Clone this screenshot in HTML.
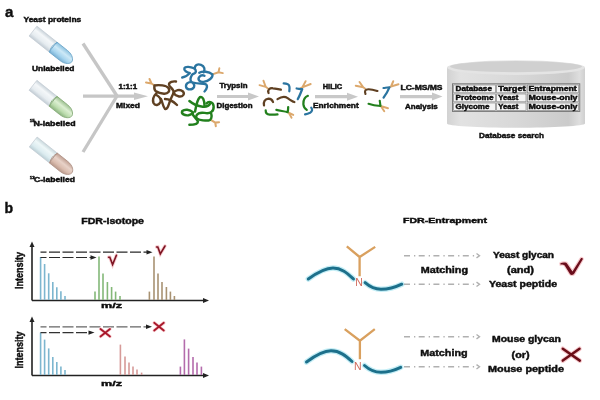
<!DOCTYPE html>
<html><head><meta charset="utf-8">
<style>
html,body{margin:0;padding:0;background:#fff;width:600px;height:400px;overflow:hidden}
svg{display:block}
text{font-family:"Liberation Sans",sans-serif;font-weight:bold;fill:#0c0c0c;stroke:#0c0c0c;stroke-width:0.42px}
</style></head><body>
<svg width="600" height="400" viewBox="0 0 600 400">
<defs>
<linearGradient id="tubeTop" x1="0" y1="0" x2="0" y2="1">
<stop offset="0" stop-color="#c9d3da"/><stop offset="0.3" stop-color="#f4f7f9"/><stop offset="0.7" stop-color="#e6ecf0"/><stop offset="1" stop-color="#c2ccd4"/>
</linearGradient>
<linearGradient id="tubeTop3" x1="0" y1="0" x2="0" y2="1">
<stop offset="0" stop-color="#c8d8dc"/><stop offset="0.3" stop-color="#eef7f8"/><stop offset="0.7" stop-color="#dcecf0"/><stop offset="1" stop-color="#bcd0d6"/>
</linearGradient>
<linearGradient id="liqBlue" x1="0" y1="0" x2="0" y2="1">
<stop offset="0" stop-color="#8cc2e0"/><stop offset="0.35" stop-color="#cde9f7"/><stop offset="0.7" stop-color="#a6d4ee"/><stop offset="1" stop-color="#78b0d4"/>
</linearGradient>
<linearGradient id="liqGreen" x1="0" y1="0" x2="0" y2="1">
<stop offset="0" stop-color="#9cc090"/><stop offset="0.35" stop-color="#dcefd2"/><stop offset="0.7" stop-color="#bcdcae"/><stop offset="1" stop-color="#8cb480"/>
</linearGradient>
<linearGradient id="liqPink" x1="0" y1="0" x2="0" y2="1">
<stop offset="0" stop-color="#c0a092"/><stop offset="0.35" stop-color="#e8d2c8"/><stop offset="0.7" stop-color="#dabcae"/><stop offset="1" stop-color="#b8988a"/>
</linearGradient>
<linearGradient id="cylBody" x1="0" y1="0" x2="1" y2="0">
<stop offset="0" stop-color="#d2d2d2"/><stop offset="0.1" stop-color="#e2e2e2"/><stop offset="0.5" stop-color="#d8d8d8"/><stop offset="0.88" stop-color="#cbcbcb"/><stop offset="0.96" stop-color="#dedede"/><stop offset="1" stop-color="#cfcfcf"/>
</linearGradient>
<filter id="soft" x="-10%" y="-10%" width="120%" height="120%"><feGaussianBlur stdDeviation="0.45"/></filter>
<filter id="glob" x="0" y="0" width="600" height="400" filterUnits="userSpaceOnUse"><feGaussianBlur stdDeviation="0.35"/></filter>
<marker id="ah" viewBox="0 0 10 10" refX="9" refY="5" markerWidth="5" markerHeight="5" orient="auto"><path d="M0,1 L10,5 L0,9 z" fill="#222"/></marker>
</defs>

<g filter="url(#glob)">
<!-- ===== Section a ===== -->
<text x="5" y="16.6" style="font-size:15px">a</text>
<text x="23.5" y="21.7" textLength="57.8" lengthAdjust="spacingAndGlyphs" style="font-size:7.3px">Yeast proteins</text>

<!-- tubes -->
<g filter="url(#soft)">
<g transform="translate(33,31.1) rotate(38.5)">
  <path d="M0,-6.3 L25.5,-6.3 L25.5,6.3 L0,6.3 Z" fill="url(#tubeTop)" stroke="#c4ccd4" stroke-width="0.7"/>
  <path d="M25.5,-6.3 L39,-6.3 C46.5,-6.3 49.5,-2.2 49.5,0 C49.5,2.2 46.5,6.3 39,6.3 L25.5,6.3 Z" fill="url(#liqBlue)" stroke="#6ea6c8" stroke-width="0.8"/>
  <path d="M26.5,-6.1 C23.8,-3 23.8,3 26.5,6.1" fill="none" stroke="#6fa8cc" stroke-width="0.9"/>
</g>
<g transform="translate(33,85.3) rotate(38.5)">
  <path d="M0,-6.3 L25.5,-6.3 L25.5,6.3 L0,6.3 Z" fill="url(#tubeTop)" stroke="#c4ccd4" stroke-width="0.7"/>
  <path d="M25.5,-6.3 L39,-6.3 C46.5,-6.3 49.5,-2.2 49.5,0 C49.5,2.2 46.5,6.3 39,6.3 L25.5,6.3 Z" fill="url(#liqGreen)" stroke="#86aa78" stroke-width="0.8"/>
  <path d="M26.5,-6.1 C23.8,-3 23.8,3 26.5,6.1" fill="none" stroke="#88ae7a" stroke-width="0.9"/>
</g>
<g transform="translate(33.2,142) rotate(38.5)">
  <path d="M0,-6.3 L25.5,-6.3 L25.5,6.3 L0,6.3 Z" fill="url(#tubeTop3)" stroke="#c4ccd4" stroke-width="0.7"/>
  <path d="M25.5,-6.3 L39,-6.3 C46.5,-6.3 49.5,-2.2 49.5,0 C49.5,2.2 46.5,6.3 39,6.3 L25.5,6.3 Z" fill="url(#liqPink)" stroke="#b09488" stroke-width="0.8"/>
  <path d="M26.5,-6.1 C23.8,-3 23.8,3 26.5,6.1" fill="none" stroke="#ae9084" stroke-width="0.9"/>
</g>
</g>
<text x="32" y="70.8" textLength="42.5" lengthAdjust="spacingAndGlyphs" style="font-size:7px">Unlabelled</text>
<text x="29.8" y="122" style="font-size:4.4px">15</text>
<text x="33.5" y="125.5" textLength="42" lengthAdjust="spacingAndGlyphs" style="font-size:7px">N-labelled</text>
<text x="29.8" y="178.5" style="font-size:4.4px">13</text>
<text x="34" y="182" textLength="41" lengthAdjust="spacingAndGlyphs" style="font-size:7px">C-labelled</text>

<!-- mixing arrows -->
<g stroke="#c6c6c6" stroke-width="3.3" fill="none" stroke-linecap="butt">
  <line x1="83" y1="43.5" x2="117" y2="96"/>
  <line x1="83" y1="152" x2="117" y2="96"/>
  <line x1="83" y1="96.2" x2="136" y2="96.2"/>
</g>
<path d="M134,92.4 L148,96.2 L134,100 Z" fill="#c8c8c8"/>
<text x="118.5" y="88.8" textLength="18.7" lengthAdjust="spacingAndGlyphs" style="font-size:6.4px">1:1:1</text>
<text x="116" y="108" textLength="24" lengthAdjust="spacingAndGlyphs" style="font-size:7px">Mixed</text>

<!-- blobs -->
<g fill="none" stroke-linecap="round" stroke-linejoin="round">
 <g transform="translate(145,75) scale(0.1)">
  <path d="M45,40 L65,85 M10,75 L65,85 L95,105" stroke="#dca86c" stroke-width="20"/>
  <g stroke="#5e3f20" stroke-width="24">
  <path d="M95,105 C140,95 215,105 235,130 C255,160 230,190 190,188 C150,186 120,170 105,160 C90,145 92,120 95,105"/>
  <path d="M120,175 C95,200 70,240 85,280 C100,310 140,305 155,270 C165,240 140,215 115,200"/>
  <path d="M160,240 C175,270 180,320 200,340 C225,350 235,300 250,260 C260,230 280,200 285,175 C290,140 240,120 240,95 C240,70 280,60 310,65"/>
  <path d="M285,180 C300,150 350,140 380,165 C400,190 380,220 340,215 C310,210 295,195 285,180"/>
  <path d="M200,240 C240,240 280,260 320,300"/>
  </g>
 </g>
 <g transform="translate(180,60) scale(0.0875)">
  <path d="M450,95 L440,140 M490,150 L440,140 L370,165" stroke="#dca86c" stroke-width="22"/>
  <g stroke="#2c74a0" stroke-width="27">
  <path d="M25,200 C60,195 90,175 110,150"/>
  <path d="M110,150 C80,140 40,120 50,95 C60,70 120,75 160,95 C190,115 190,150 150,160"/>
  <path d="M170,100 C165,60 200,40 240,55 C280,70 290,110 270,140"/>
  <path d="M220,145 C260,125 330,130 370,165 C380,200 330,240 270,250 C220,255 200,220 220,195 C235,175 260,170 280,180"/>
  <path d="M140,165 C120,200 110,230 130,250 C100,250 60,270 70,310 C80,345 140,345 160,310 C170,280 150,260 130,250"/>
  <path d="M160,260 C200,275 260,265 290,275 C320,290 310,330 280,360"/>
  </g>
 </g>
 <g transform="translate(178,92) scale(0.095)">
  <path d="M350,295 L392,322 M432,318 L392,322 L398,360" stroke="#dca86c" stroke-width="22"/>
  <g stroke="#23801f" stroke-width="26">
  <path d="M120,95 C150,120 200,150 260,155 C300,158 330,140 340,120"/>
  <path d="M180,205 C190,150 200,80 230,55 C260,40 280,90 280,150"/>
  <path d="M300,120 C320,95 370,100 375,150 C380,200 340,235 280,220 C230,210 195,230 190,260 C190,290 260,300 320,300 C350,295 360,260 350,230"/>
  <path d="M160,215 C120,180 70,180 45,200 C30,230 70,250 110,245 C140,240 160,220 160,215"/>
  <path d="M150,230 C170,260 200,290 210,310 C210,335 160,345 120,345"/>
  </g>
 </g>
</g>

<!-- trypsin arrow -->
<line x1="217" y1="96.5" x2="250" y2="96.5" stroke="#c8c8c8" stroke-width="3.2"/>
<path d="M248,92.5 L259,96.5 L248,100.5 Z" fill="#c8c8c8"/>
<text x="219.5" y="88" textLength="28" lengthAdjust="spacingAndGlyphs" style="font-size:7px">Trypsin</text>
<text x="216.5" y="108" textLength="36" lengthAdjust="spacingAndGlyphs" style="font-size:7px">Digestion</text>

<!-- fragments -->
<g fill="none" stroke-linecap="round" stroke-linejoin="round" transform="translate(255,75) scale(0.1125)">
  <g stroke="#dca86c" stroke-width="17">
   <path d="M75,50 L95,105 M40,90 L95,105 L115,120"/>
   <path d="M450,55 L420,110 M495,80 L420,110 L400,120"/>
   <path d="M290,330 L340,355 M325,380 L300,335"/>
  </g>
  <g stroke="#5e3f20" stroke-width="20">
   <path d="M120,160 C110,130 130,115 160,118 C190,120 210,125 230,130"/>
   <path d="M80,270 C75,240 85,215 120,210 C140,210 155,225 160,240"/>
   <path d="M200,215 C230,195 260,185 290,205 C310,220 330,235 350,240"/>
  </g>
  <g stroke="#2c74a0" stroke-width="20">
   <path d="M255,75 C280,75 300,80 305,100 C310,120 305,135 305,145"/>
   <path d="M370,120 C390,122 410,125 420,125 C410,150 395,190 380,215"/>
   <path d="M500,290 C512,305 510,325 490,335 C475,342 455,348 445,350"/>
  </g>
  <g stroke="#23801f" stroke-width="20">
   <path d="M95,315 C95,335 105,350 130,352 C160,354 185,352 200,350"/>
   <path d="M190,310 C220,318 260,322 290,330 C295,310 295,295 295,285"/>
   <path d="M470,185 C445,195 428,220 430,260 C432,285 445,300 460,310"/>
  </g>
</g>

<!-- HILIC arrow -->
<line x1="315" y1="96.7" x2="349" y2="96.7" stroke="#c8c8c8" stroke-width="3.2"/>
<path d="M347,92.7 L358,96.7 L347,100.7 Z" fill="#c8c8c8"/>
<text x="322.7" y="88.7" textLength="19.5" lengthAdjust="spacingAndGlyphs" style="font-size:7px">HILIC</text>
<text x="313" y="108.2" textLength="45.7" lengthAdjust="spacingAndGlyphs" style="font-size:7px">Enrichment</text>

<!-- enriched glycopeptides -->
<g fill="none" stroke-linecap="round" stroke-linejoin="round" transform="translate(310,70) scale(0.15)">
  <g stroke="#dca86c" stroke-width="13">
   <path d="M330,80 L355,115 M305,105 L355,115 L368,125"/>
   <path d="M555,75 L540,110 M590,95 L540,110 L530,115"/>
   <path d="M470,240 L520,255 M495,275 L475,245"/>
  </g>
  <path d="M370,160 C362,140 368,128 390,128 C415,128 435,135 450,140" stroke="#5e3f20" stroke-width="14"/>
  <path d="M490,120 C505,118 520,115 530,115 C520,140 505,165 490,185" stroke="#2c74a0" stroke-width="14"/>
  <path d="M390,225 C410,232 440,238 470,240 C468,225 466,212 465,205" stroke="#23801f" stroke-width="14"/>
</g>

<!-- LC-MS/MS arrow -->
<line x1="400" y1="96.6" x2="434" y2="96.6" stroke="#c8c8c8" stroke-width="3.2"/>
<path d="M432,92.6 L442.5,96.6 L432,100.6 Z" fill="#c8c8c8"/>
<text x="400.5" y="89.8" textLength="42" lengthAdjust="spacingAndGlyphs" style="font-size:7px">LC-MS/MS</text>
<text x="405" y="108.8" textLength="32.8" lengthAdjust="spacingAndGlyphs" style="font-size:7px">Analysis</text>

<!-- database cylinder -->
<g filter="url(#soft)">
<path d="M447,67.5 L447,123.5 C447,126 478,127.8 516,127.8 C554,127.8 585,126 585,123.5 L585,67.5 Z" fill="url(#cylBody)"/>
<ellipse cx="516" cy="67.6" rx="69" ry="7.3" fill="#e4e4e4"/>
<ellipse cx="516" cy="66.6" rx="66" ry="5.6" fill="#d0d0d0"/>
</g>
<!-- table -->
<rect x="452.5" y="83.8" width="127.3" height="27.6" fill="#dcdcdc" stroke="#707070" stroke-width="0.9"/>
<g fill="#f4f4f4" stroke="#7c7c7c" stroke-width="0.6">
 <rect x="453.7" y="85" width="41.6" height="7.8"/>
 <rect x="496.7" y="85" width="29.3" height="7.8"/>
 <rect x="527.4" y="85" width="51.2" height="7.8"/>
 <rect x="453.7" y="94" width="41.6" height="7.8"/>
 <rect x="496.7" y="94" width="29.3" height="7.8"/>
 <rect x="527.4" y="94" width="51.2" height="7.8"/>
 <rect x="453.7" y="103" width="41.6" height="7.4"/>
 <rect x="496.7" y="103" width="29.3" height="7.4"/>
 <rect x="527.4" y="103" width="51.2" height="7.4"/>
</g>
<g style="font-size:6.5px">
<text x="455.5" y="90.6" textLength="36.5" lengthAdjust="spacingAndGlyphs">Database</text>
<text x="498.3" y="90.6" textLength="27.3" lengthAdjust="spacingAndGlyphs">Target</text>
<text x="528.5" y="90.6" textLength="48.2" lengthAdjust="spacingAndGlyphs">Entrapment</text>
<text x="455.5" y="99.6" textLength="38" lengthAdjust="spacingAndGlyphs">Proteome</text>
<text x="498.3" y="99.6" textLength="20" lengthAdjust="spacingAndGlyphs">Yeast</text>
<text x="528.5" y="99.6" textLength="49" lengthAdjust="spacingAndGlyphs">Mouse-only</text>
<text x="455.5" y="109" textLength="34" lengthAdjust="spacingAndGlyphs">Glycome</text>
<text x="498.3" y="109" textLength="20" lengthAdjust="spacingAndGlyphs">Yeast</text>
<text x="528.5" y="109" textLength="49" lengthAdjust="spacingAndGlyphs">Mouse-only</text>
</g>
<text x="479" y="138.3" textLength="65" lengthAdjust="spacingAndGlyphs" style="font-size:7.3px">Database search</text>

<!-- ===== Section b ===== -->
<text x="4.6" y="212.5" style="font-size:14px">b</text>
<text x="81.3" y="224" textLength="62.7" lengthAdjust="spacingAndGlyphs" style="font-size:8.6px">FDR-Isotope</text>

<!-- spectrum panel 1 -->
<g id="p1">
 <line x1="32" y1="300.5" x2="206" y2="300.5" stroke="#222" stroke-width="1.6"/>
 <path d="M209,300.5 L203,298 L203,303 Z" fill="#222"/>
 <line x1="32" y1="300.5" x2="32" y2="245" stroke="#222" stroke-width="1.6"/>
 <path d="M32,241.5 L29.5,247 L34.5,247 Z" fill="#222"/>
 <g stroke="#7db6cf" stroke-width="1.6">
  <line x1="40.6" y1="300" x2="40.6" y2="257"/>
  <line x1="44.6" y1="300" x2="44.6" y2="264"/>
  <line x1="48.7" y1="300" x2="48.7" y2="273.3"/>
  <line x1="52.8" y1="300" x2="52.8" y2="282"/>
  <line x1="56.8" y1="300" x2="56.8" y2="287.2"/>
  <line x1="60.9" y1="300" x2="60.9" y2="291.2"/>
  <line x1="65" y1="300" x2="65" y2="296"/>
 </g>
 <g stroke="#84b878" stroke-width="1.6">
  <line x1="95" y1="300" x2="95" y2="291.6"/>
  <line x1="99" y1="300" x2="99" y2="256.4"/>
  <line x1="103" y1="300" x2="103" y2="273.6"/>
  <line x1="107.4" y1="300" x2="107.4" y2="282"/>
  <line x1="111.6" y1="300" x2="111.6" y2="287"/>
  <line x1="115.6" y1="300" x2="115.6" y2="291.6"/>
  <line x1="120" y1="300" x2="120" y2="296"/>
 </g>
 <g stroke="#a89272" stroke-width="1.6">
  <line x1="149.4" y1="300" x2="149.4" y2="291.6"/>
  <line x1="154" y1="300" x2="154" y2="256.4"/>
  <line x1="158" y1="300" x2="158" y2="273.6"/>
  <line x1="162" y1="300" x2="162" y2="282"/>
  <line x1="166.4" y1="300" x2="166.4" y2="287"/>
  <line x1="170.4" y1="300" x2="170.4" y2="291.6"/>
  <line x1="174.4" y1="300" x2="174.4" y2="296"/>
 </g>
 <g stroke="#2a2a2a" stroke-width="1.2" fill="none">
  <line x1="40.5" y1="252.2" x2="148" y2="252.2" stroke-dasharray="11 2.5" stroke-dashoffset="5"/>
  <line x1="40.5" y1="257.5" x2="92" y2="257.5" stroke-dasharray="11 2.5" stroke-dashoffset="5"/>
 </g>
 <path d="M152.5,252.2 L146.5,250 L146.5,254.4 Z" fill="#222"/>
 <path d="M96.5,257.5 L90.5,255.3 L90.5,259.7 Z" fill="#222"/>
 <path d="M108.6,257.3 L109.8,257.3 L112.6,264.6 L116.4,255.3" stroke="#f8ccd0" stroke-width="3.4" fill="none" stroke-linecap="round"/>
 <path d="M108.6,257.3 L109.8,257.3 L112.6,264.6 L116.4,255.3" stroke="#7c1222" stroke-width="1.6" fill="none" stroke-linecap="round"/>
 <path d="M156.6,247 L157.8,247 L160.3,253.8 L165,246" stroke="#f8ccd0" stroke-width="3.4" fill="none" stroke-linecap="round"/>
 <path d="M156.6,247 L157.8,247 L160.3,253.8 L165,246" stroke="#7c1222" stroke-width="1.6" fill="none" stroke-linecap="round"/>
 <text transform="translate(22.8,289) rotate(-90)" textLength="37" lengthAdjust="spacingAndGlyphs" style="font-size:10px">Intensity</text>
 <text x="101" y="308.3" textLength="21" lengthAdjust="spacingAndGlyphs" style="font-size:8px">m/z</text>
</g>

<!-- spectrum panel 2 -->
<g>
 <line x1="32" y1="375.5" x2="206" y2="375.5" stroke="#222" stroke-width="1.6"/>
 <path d="M209,375.5 L203,373 L203,378 Z" fill="#222"/>
 <line x1="32" y1="375.5" x2="32" y2="320" stroke="#222" stroke-width="1.6"/>
 <path d="M32,316.5 L29.5,322 L34.5,322 Z" fill="#222"/>
 <g stroke="#7db6cf" stroke-width="1.6">
  <line x1="40.6" y1="375" x2="40.6" y2="332.6"/>
  <line x1="44.6" y1="375" x2="44.6" y2="339.6"/>
  <line x1="48.7" y1="375" x2="48.7" y2="348.4"/>
  <line x1="52.8" y1="375" x2="52.8" y2="357"/>
  <line x1="56.8" y1="375" x2="56.8" y2="362"/>
  <line x1="60.9" y1="375" x2="60.9" y2="366.6"/>
  <line x1="65" y1="375" x2="65" y2="370"/>
 </g>
 <g stroke="#d69a98" stroke-width="1.6">
  <line x1="120.4" y1="375" x2="120.4" y2="344.6"/>
  <line x1="125" y1="375" x2="125" y2="356.6"/>
  <line x1="129" y1="375" x2="129" y2="362.6"/>
  <line x1="133" y1="375" x2="133" y2="366.6"/>
  <line x1="137" y1="375" x2="137" y2="369.4"/>
  <line x1="141.6" y1="375" x2="141.6" y2="372.6"/>
 </g>
 <g stroke="#b46cac" stroke-width="1.6">
  <line x1="180.4" y1="375" x2="180.4" y2="366.6"/>
  <line x1="184.4" y1="375" x2="184.4" y2="339.4"/>
  <line x1="188.6" y1="375" x2="188.6" y2="348.6"/>
  <line x1="193" y1="375" x2="193" y2="357"/>
  <line x1="197" y1="375" x2="197" y2="362.6"/>
  <line x1="201.4" y1="375" x2="201.4" y2="366.6"/>
 </g>
 <g stroke-width="1.3" fill="none">
  <line x1="40.5" y1="326.8" x2="147" y2="326.8" stroke="#666" stroke-dasharray="11 2.5" stroke-dashoffset="5"/>
  <line x1="40.5" y1="332.6" x2="90" y2="332.6" stroke="#333" stroke-dasharray="11 2.5" stroke-dashoffset="5"/>
 </g>
 <path d="M152,326.8 L146,324.6 L146,329 Z" fill="#222"/>
 <path d="M94.5,332.6 L88.5,330.4 L88.5,334.8 Z" fill="#222"/>
 <path d="M100.5,329 L110,336.5 M110,329 L100.5,336.5" stroke="#f8ccd0" stroke-width="3.4" stroke-linecap="round"/>
 <path d="M100.5,329 L110,336.5 M110,329 L100.5,336.5" stroke="#a8182a" stroke-width="1.8" stroke-linecap="round"/>
 <path d="M154.2,322.8 L163.8,330.5 M163.8,322.8 L154.2,330.5" stroke="#f8ccd0" stroke-width="3.4" stroke-linecap="round"/>
 <path d="M154.2,322.8 L163.8,330.5 M163.8,322.8 L154.2,330.5" stroke="#a8182a" stroke-width="1.8" stroke-linecap="round"/>
 <text transform="translate(22.8,368.4) rotate(-90)" textLength="37" lengthAdjust="spacingAndGlyphs" style="font-size:10px">Intensity</text>
 <text x="101" y="386.3" textLength="21" lengthAdjust="spacingAndGlyphs" style="font-size:8px">m/z</text>
</g>

<!-- FDR-Entrapment -->
<text x="403" y="223" textLength="84" lengthAdjust="spacingAndGlyphs" style="font-size:7.8px">FDR-Entrapment</text>

<g id="gp1">
 <path d="M346.8,246.4 L359.6,257 L375.2,246.9 M359.6,257 L359.6,276.3" stroke="#d9a05e" stroke-width="2.3" fill="none" stroke-linejoin="miter"/>
 <path d="M308.3,279 C318,272 326,268 333,268 C342,268 348,274 353.5,279" stroke="#c4eef6" stroke-width="5.5" fill="none" stroke-linecap="round"/>
 <path d="M308.3,279 C318,272 326,268 333,268 C342,268 348,274 353.5,279" stroke="#1f6f8b" stroke-width="3" fill="none" stroke-linecap="round"/>
 <path d="M365.1,282.7 C370,287 375,289.3 381,289.3 C389,289.3 396,287 401.8,284.2" stroke="#c4eef6" stroke-width="5.5" fill="none" stroke-linecap="round"/>
 <path d="M365.1,282.7 C370,287 375,289.3 381,289.3 C389,289.3 396,287 401.8,284.2" stroke="#1f6f8b" stroke-width="3" fill="none" stroke-linecap="round"/>
 <text x="355.2" y="286.4" style="font-size:10.5px;font-weight:normal;fill:#d06a5c;stroke:none">N</text>
 <g stroke="#b0b0b0" stroke-width="1.6">
  <line x1="404" y1="255.7" x2="476" y2="255.7" stroke-dasharray="6 4 1.3 3.4"/>
  <line x1="404" y1="284.3" x2="476" y2="284.3" stroke-dasharray="6 4 1.3 3.4"/>
 </g>
 <path d="M476.5,253.5 L479.5,255.7 L476.5,257.9 M476.5,282.1 L479.5,284.3 L476.5,286.5" stroke="#b0b0b0" stroke-width="1.4" fill="none"/>
 <text x="420.7" y="273" textLength="47.3" lengthAdjust="spacingAndGlyphs" style="font-size:9px">Matching</text>
 <text x="493" y="258" textLength="61" lengthAdjust="spacingAndGlyphs" style="font-size:8.6px">Yeast glycan</text>
 <text x="507" y="273" textLength="27" lengthAdjust="spacingAndGlyphs" style="font-size:8.6px">(and)</text>
 <text x="489" y="287" textLength="68" lengthAdjust="spacingAndGlyphs" style="font-size:8.6px">Yeast peptide</text>
 <path transform="translate(550,250) scale(0.075)" d="M138,178 C160,165 195,160 222,172 L300,285 L410,112 C418,100 440,105 437,122 L322,318 C312,335 280,338 268,322 L196,205 C180,192 160,190 142,195 Z" fill="none" stroke="#f6c8cc" stroke-width="30"/>
 <path transform="translate(550,250) scale(0.075)" d="M138,178 C160,165 195,160 222,172 L300,285 L410,112 C418,100 440,105 437,122 L322,318 C312,335 280,338 268,322 L196,205 C180,192 160,190 142,195 Z" fill="#6a0f1a"/>
</g>

<g id="gp2">
 <path d="M344.7,329.2 L359.9,340.7 L374.8,329.2 M359.9,340.7 L359.9,359.3" stroke="#d9a05e" stroke-width="2.3" fill="none" stroke-linejoin="miter"/>
 <path d="M306.5,362 C316,355 324,350.8 331,350.8 C340,350.8 346,356 352,361.5" stroke="#c4eef6" stroke-width="5.5" fill="none" stroke-linecap="round"/>
 <path d="M306.5,362 C316,355 324,350.8 331,350.8 C340,350.8 346,356 352,361.5" stroke="#1f6f8b" stroke-width="3" fill="none" stroke-linecap="round"/>
 <path d="M364.5,365.5 C369.5,370 375,372.3 381,372.3 C389,372.3 395,370 400.7,367.3" stroke="#c4eef6" stroke-width="5.5" fill="none" stroke-linecap="round"/>
 <path d="M364.5,365.5 C369.5,370 375,372.3 381,372.3 C389,372.3 395,370 400.7,367.3" stroke="#1f6f8b" stroke-width="3" fill="none" stroke-linecap="round"/>
 <text x="354" y="369.5" style="font-size:10.5px;font-weight:normal;fill:#d06a5c;stroke:none">N</text>
 <g stroke="#b0b0b0" stroke-width="1.6">
  <line x1="404" y1="336.7" x2="476" y2="336.7" stroke-dasharray="6 4 1.3 3.4"/>
  <line x1="404" y1="366.8" x2="476" y2="366.8" stroke-dasharray="6 4 1.3 3.4"/>
 </g>
 <path d="M476.5,334.5 L479.5,336.7 L476.5,338.9 M476.5,364.6 L479.5,366.8 L476.5,369" stroke="#b0b0b0" stroke-width="1.4" fill="none"/>
 <text x="420.3" y="356" textLength="47.3" lengthAdjust="spacingAndGlyphs" style="font-size:9px">Matching</text>
 <text x="492" y="342" textLength="69" lengthAdjust="spacingAndGlyphs" style="font-size:8.6px">Mouse glycan</text>
 <text x="511.6" y="358" textLength="18" lengthAdjust="spacingAndGlyphs" style="font-size:8.6px">(or)</text>
 <text x="488" y="372" textLength="76" lengthAdjust="spacingAndGlyphs" style="font-size:8.6px">Mouse peptide</text>
 <path d="M562.8,348.8 L579.8,360.6 M579.5,348.8 L562.8,360.6" stroke="#f6c8cc" stroke-width="4.6" fill="none" stroke-linecap="round"/>
 <path d="M562.8,348.8 L579.8,360.6 M579.5,348.8 L562.8,360.6" stroke="#6a0e18" stroke-width="2.5" fill="none" stroke-linecap="round"/>
</g>
</g>
</svg>
</body></html>
